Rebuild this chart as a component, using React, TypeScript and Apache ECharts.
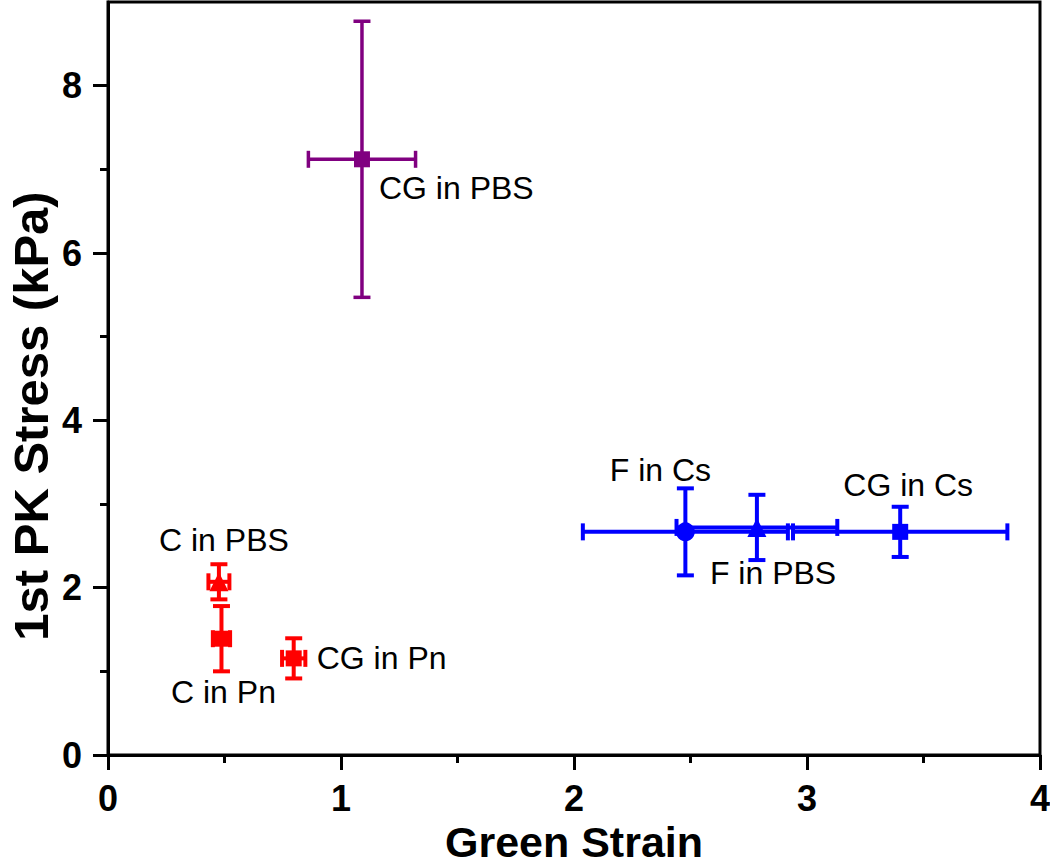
import React, { useEffect, useRef } from "react";
import * as echarts from "echarts";

// ---- data ----
const purpleNames = ["CG in PBS"];
const purpleX = [1.09];
const purpleY = [7.12];
const purpleXErr = [0.23];
const purpleYErr = [1.65];
const purpleSymbols = ["rect"];

const redNames = ["C in PBS", "C in Pn", "CG in Pn"];
const redX = [0.476, 0.487, 0.797];
const redY = [2.07, 1.39, 1.155];
const redXErr = [0.045, 0.037, 0.05];
const redYErr = [0.21, 0.39, 0.24];
const redSymbols = ["triangle", "rect", "rect"];

const blueNames = ["F in Cs", "F in PBS", "CG in Cs"];
const blueX = [2.478, 2.785, 3.4];
const blueY = [2.667, 2.72, 2.667];
const blueXErr = [0.44, 0.345, 0.46];
const blueYErr = [0.52, 0.39, 0.3];
const blueSymbols = ["circle", "triangle", "rect"];

const xTicks = [0, 1, 2, 3, 4];
const yMajorTicks = [0, 2, 4, 6, 8];
const yMinorTicks = [1, 3, 5, 7];

const xTitle = "Green Strain";
const yTitle = "1st PK Stress (kPa)";

// label placement (pixels relative to marker centre)
const labelPlacement: Record<string, { dx: number; dy: number; align: string }> = {
  "CG in PBS": { dx: 17, dy: 29, align: "left" },
  "C in PBS": { dx: 5, dy: -42, align: "center" },
  "C in Pn": { dx: 2, dy: 53, align: "center" },
  "CG in Pn": { dx: 23, dy: 0, align: "left" },
  "F in Cs": { dx: -25, dy: -62, align: "center" },
  "F in PBS": { dx: -47, dy: 46, align: "left" },
  "CG in Cs": { dx: 8, dy: -47, align: "center" },
};

const FONT = "'Liberation Sans', Arial, Helvetica, sans-serif";

const symbolSize: Record<string, number> = { rect: 16, triangle: 19, circle: 19 };

function buildGroup(
  names: string[],
  xs: number[],
  ys: number[],
  xe: number[],
  ye: number[],
  syms: string[],
  color: string,
  lw: number
) {
  const errData = xs.map((x, i) => [x, ys[i], xe[i], ye[i]]);
  const scatterData = xs.map((x, i) => {
    const p = labelPlacement[names[i]];
    return {
      name: names[i],
      value: [x, ys[i]],
      symbol: syms[i],
      symbolSize: symbolSize[syms[i]],
      label: {
        show: true,
        formatter: names[i],
        position: "inside",
        align: p.align,
        verticalAlign: "middle",
        offset: [p.dx, p.dy],
        color: "#000",
        fontSize: 32,
        fontFamily: FONT,
      },
    };
  });
  const cap = 8.5;
  const err = {
    type: "custom",
    data: errData,
    encode: { x: 0, y: 1 },
    z: 2,
    clip: false,
    renderItem: (_params: any, api: any) => {
      const x = api.value(0);
      const y = api.value(1);
      const ex = api.value(2);
      const ey = api.value(3);
      const c = api.coord([x, y]);
      const t = api.coord([x, y + ey]);
      const b = api.coord([x, y - ey]);
      const l = api.coord([x - ex, y]);
      const r = api.coord([x + ex, y]);
      const style = { stroke: color, lineWidth: lw, fill: null };
      return {
        type: "group",
        children: [
          { type: "line", shape: { x1: c[0], y1: t[1], x2: c[0], y2: b[1] }, style },
          { type: "line", shape: { x1: c[0] - cap, y1: t[1], x2: c[0] + cap, y2: t[1] }, style },
          { type: "line", shape: { x1: c[0] - cap, y1: b[1], x2: c[0] + cap, y2: b[1] }, style },
          { type: "line", shape: { x1: l[0], y1: c[1], x2: r[0], y2: c[1] }, style },
          { type: "line", shape: { x1: l[0], y1: c[1] - cap, x2: l[0], y2: c[1] + cap }, style },
          { type: "line", shape: { x1: r[0], y1: c[1] - cap, x2: r[0], y2: c[1] + cap }, style },
        ],
      };
    },
  };
  const sc = {
    type: "scatter",
    data: scatterData,
    itemStyle: { color, opacity: 1 },
    z: 3,
  };
  return [err, sc];
}

export default function App() {
  const ref = useRef<HTMLDivElement>(null);
  useEffect(() => {
    if (!ref.current) return;
    const chart = echarts.init(ref.current, null, { renderer: "svg" });
    const axisLine = { show: true, lineStyle: { color: "#000", width: 3 } };
    const option: any = {
      animation: false,
      backgroundColor: "#fff",
      grid: {
        left: 108,
        right: 10,
        top: 2,
        bottom: 109,
        containLabel: false,
        outerBoundsMode: "none",
        show: true,
        borderColor: "#000",
        borderWidth: 3,
        backgroundColor: "transparent",
      },
      xAxis: {
        type: "value",
        min: xTicks[0],
        max: xTicks[xTicks.length - 1],
        interval: 1,
        axisLine,
        axisTick: { show: true, length: 15, lineStyle: { color: "#000", width: 3 } },
        minorTick: { show: true, splitNumber: 2, length: 8, lineStyle: { color: "#000", width: 3 } },
        splitLine: { show: false },
        axisLabel: {
          margin: 25,
          color: "#000",
          fontSize: 36,
          fontWeight: "bold",
          fontFamily: FONT,
        },
        name: xTitle,
        nameLocation: "middle",
        nameGap: 56,
        nameTextStyle: {
          color: "#000",
          fontSize: 43,
          lineHeight: 43,
          fontWeight: "bold",
          fontFamily: FONT,
        },
      },
      yAxis: [
        {
          type: "value",
          min: 0,
          max: 9,
          axisLine,
          axisTick: {
            show: true,
            length: 15,
            customValues: yMajorTicks,
            lineStyle: { color: "#000", width: 3 },
          },
          splitLine: { show: false },
          axisLabel: {
            customValues: yMajorTicks,
            margin: 26,
            color: "#000",
            fontSize: 36,
            fontWeight: "bold",
            fontFamily: FONT,
          },
        },
        {
          type: "value",
          min: 0,
          max: 9,
          position: "left",
          axisLine: { show: false },
          axisTick: {
            show: true,
            length: 8,
            customValues: yMinorTicks,
            lineStyle: { color: "#000", width: 3 },
          },
          axisLabel: { show: false },
          splitLine: { show: false },
        },
      ],
      graphic: [
        {
          type: "text",
          x: 31,
          y: 416,
          rotation: Math.PI / 2,
          style: {
            text: yTitle,
            fill: "#000",
            font: `bold 49px ${FONT}`,
            align: "center",
            verticalAlign: "middle",
          },
        },
      ],
      series: [
        ...buildGroup(purpleNames, purpleX, purpleY, purpleXErr, purpleYErr, purpleSymbols, "#800080", 3.5),
        ...buildGroup(redNames, redX, redY, redXErr, redYErr, redSymbols, "#ff0000", 4),
        ...buildGroup(blueNames, blueX, blueY, blueXErr, blueYErr, blueSymbols, "#0000ff", 4),
      ],
    };
    chart.setOption(option);
    return () => chart.dispose();
  }, []);
  return (
    <div
      ref={ref}
      style={{ position: "fixed", left: 0, top: 0, width: 1050, height: 864, background: "#fff" }}
    />
  );
}
